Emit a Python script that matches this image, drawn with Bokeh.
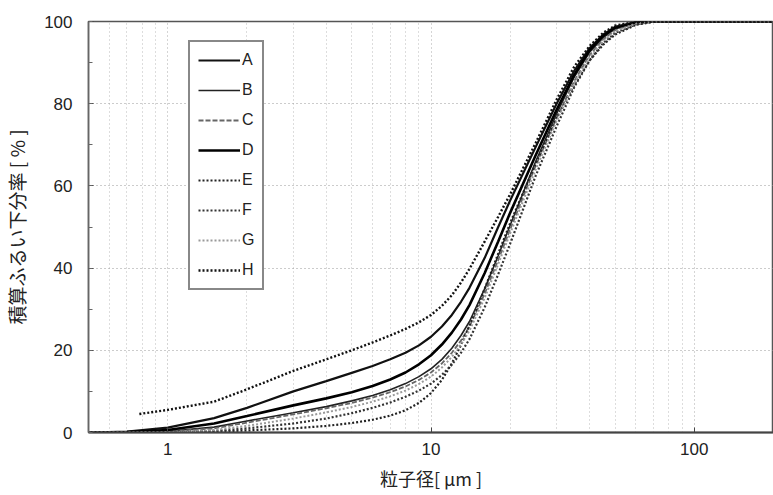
from bokeh.plotting import figure
from bokeh.models import FixedTicker, SingleIntervalTicker, Legend, LegendItem, Range1d
from bokeh.embed import file_html
from bokeh.resources import INLINE

# particle size [um]
x_common = [0.5, 0.7, 1, 1.5, 2, 3, 4, 5, 6, 7, 8, 9, 10, 11, 12, 13, 14, 16, 18, 20,
            25, 30, 35, 40, 45, 50, 60, 70, 80, 100, 150, 200]
x_H = [0.78, 1, 1.5, 2, 3, 4, 5, 6, 7, 8, 9, 10, 11, 12, 13, 14, 16, 18, 20,
       25, 30, 35, 40, 45, 50, 60, 70, 80, 100, 150, 200]

# cumulative undersize [%]
y_A = [0, 0.2, 1.2, 3.5, 6, 10, 12.5, 14.5, 16.2, 17.8, 19.4, 21.2, 23.3, 25.8, 28.6, 31.8, 35.2,
       42.5, 50, 56.5, 69.5, 80, 88, 93.5, 96.8, 98.7, 99.8, 100, 100, 100, 100, 100]
y_B = [0, 0, 0.3, 1.3, 2.8, 4.8, 6.3, 7.7, 9, 10.4, 11.9, 13.6, 15.5, 17.8, 20.5, 23.6, 27,
       35, 43, 50.5, 66, 77.5, 86.5, 92.5, 96, 98.2, 99.7, 100, 100, 100, 100, 100]
y_C = [0, 0, 0.2, 1, 2.4, 4.4, 5.9, 7.2, 8.5, 9.8, 11.2, 12.8, 14.6, 16.8, 19.4, 22.4, 25.8,
       33.8, 42, 49.5, 65, 76.5, 85.5, 91.8, 95.6, 97.9, 99.6, 100, 100, 100, 100, 100]
y_D = [0, 0.1, 0.6, 2.2, 4, 6.6, 8.3, 9.8, 11.3, 12.9, 14.6, 16.6, 18.8, 21.4, 24.3, 27.5, 31,
       38.8, 46.5, 53.5, 67.5, 78.5, 87, 93, 96.5, 98.5, 99.8, 100, 100, 100, 100, 100]
y_E = [0, 0, 0, 0.2, 0.5, 1, 1.6, 2.3, 3.1, 4.1, 5.4, 7.2, 9.6, 12.8, 16.8, 21.3, 26,
       35, 43.5, 51, 65.5, 76.5, 84.5, 90.5, 94.3, 96.8, 99.2, 99.9, 100, 100, 100, 100]
y_F = [0, 0, 0.1, 0.4, 1, 2.2, 3.4, 4.7, 6, 7.3, 8.7, 10.2, 11.9, 14, 16.5, 19.4, 22.7,
       30.5, 38.5, 46, 62.5, 74.5, 84, 90.5, 94.7, 97.2, 99.3, 100, 100, 100, 100, 100]
y_G = [0, 0, 0.1, 0.6, 1.6, 3.4, 4.9, 6.2, 7.5, 8.8, 10.2, 11.8, 13.6, 15.8, 18.4, 21.4, 24.8,
       32.8, 41, 48.5, 64, 75.8, 85, 91.3, 95.2, 97.6, 99.5, 100, 100, 100, 100, 100]
y_H = [4.5, 5.5, 7.5, 10.5, 15, 17.8, 20, 21.9, 23.6, 25.2, 26.8, 28.6, 30.8, 33.4, 36.5, 39.8,
       46.5, 52.5, 58, 70.5, 81, 89, 94, 97.2, 99, 99.9, 100, 100, 100, 100, 100]

series_names = ["A", "B", "C", "D", "E", "F", "G", "H"]

x_major_ticks = [1, 10, 100]
x_minor_ticks = [0.5, 0.6, 0.7, 0.8, 0.9, 2, 3, 4, 5, 6, 7, 8, 9,
                 20, 30, 40, 50, 60, 70, 80, 90, 200]

p = figure(width=773, height=495, x_axis_type="log",
           x_range=Range1d(0.5, 200), y_range=Range1d(0, 100),
           output_backend="svg", toolbar_location=None,
           min_border_left=88, min_border_right=0, min_border_top=21, min_border_bottom=63)
p.background_fill_color = "white"
p.border_fill_color = "white"
p.outline_line_color = "#555555"
p.outline_line_width = 1.5

# axes
p.xaxis.ticker = FixedTicker(ticks=x_major_ticks, minor_ticks=x_minor_ticks)
p.yaxis.ticker = SingleIntervalTicker(interval=20, num_minor_ticks=2)
p.xaxis.major_label_overrides = {1: "1", 10: "10", 100: "100"}
for ax in (p.xaxis[0], p.yaxis[0]):
    ax.major_tick_in = 5
    ax.major_tick_out = 0
    ax.minor_tick_out = 0
    ax.major_tick_line_color = "#444444"
    ax.minor_tick_line_color = "#666666"
    ax.major_label_text_font = "Liberation Sans"
    ax.major_label_text_font_size = "17px"
    ax.major_label_text_color = "#222222"
    ax.axis_label_text_font = "Noto Sans CJK JP"
    ax.axis_label_text_font_style = "normal"
    ax.axis_label_text_color = "#222222"
p.xaxis.minor_tick_in = 0
p.yaxis.minor_tick_in = 4
p.xaxis.axis_line_color = "#444444"
p.xaxis.axis_line_width = 2
p.yaxis.axis_line_color = "#666666"
p.yaxis.axis_line_width = 1.5
p.yaxis.major_label_standoff = 16
p.xaxis.major_label_standoff = 10
p.xaxis.axis_label = "粒子径[ μm ]"
p.yaxis.axis_label = "積算ふるい下分率 [ % ]"
p.xaxis.axis_label_text_font_size = "18px"
p.yaxis.axis_label_text_font_size = "19px"
p.xaxis.axis_label_standoff = 7
p.yaxis.axis_label_standoff = 11

# grid
p.xgrid.grid_line_color = "#aaaaaa"
p.xgrid.grid_line_dash = "1 3"
p.xgrid.minor_grid_line_color = "#bbbbbb"
p.xgrid.minor_grid_line_dash = "1 3"
p.ygrid.grid_line_color = "#999999"
p.ygrid.grid_line_dash = "1 3"

styles = {
    "A": dict(line_color="#111111", line_width=2.2),
    "B": dict(line_color="#222222", line_width=1.6),
    "C": dict(line_color="#666666", line_width=1.8, line_dash="5 2"),
    "D": dict(line_color="#000000", line_width=2.6),
    "E": dict(line_color="#222222", line_width=2.2, line_dash="2 2"),
    "F": dict(line_color="#333333", line_width=2.2, line_dash="2 2"),
    "G": dict(line_color="#999999", line_width=2.0, line_dash="2 2"),
    "H": dict(line_color="#111111", line_width=2.4, line_dash="2 2"),
}
data = {
    "A": (x_common, y_A), "B": (x_common, y_B), "C": (x_common, y_C), "D": (x_common, y_D),
    "E": (x_common, y_E), "F": (x_common, y_F), "G": (x_common, y_G), "H": (x_H, y_H),
}

items = []
for name in series_names:
    xs, ys = data[name]
    r = p.line(xs, ys, **styles[name])
    items.append(LegendItem(label=name, renderers=[r]))

legend = Legend(items=items, location=(100, 142))
legend.border_line_color = "#111111"
legend.border_line_width = 2
legend.background_fill_color = "white"
legend.background_fill_alpha = 1
legend.label_text_font = "Liberation Sans"
legend.label_text_font_size = "16px"
legend.label_text_color = "#222222"
legend.glyph_width = 42
legend.glyph_height = 20
legend.label_height = 20
legend.label_width = 10
legend.label_standoff = 2
legend.spacing = 10
legend.padding = 8
legend.margin = 0
p.add_layout(legend)

open("out.html", "w").write(file_html(p, INLINE))
